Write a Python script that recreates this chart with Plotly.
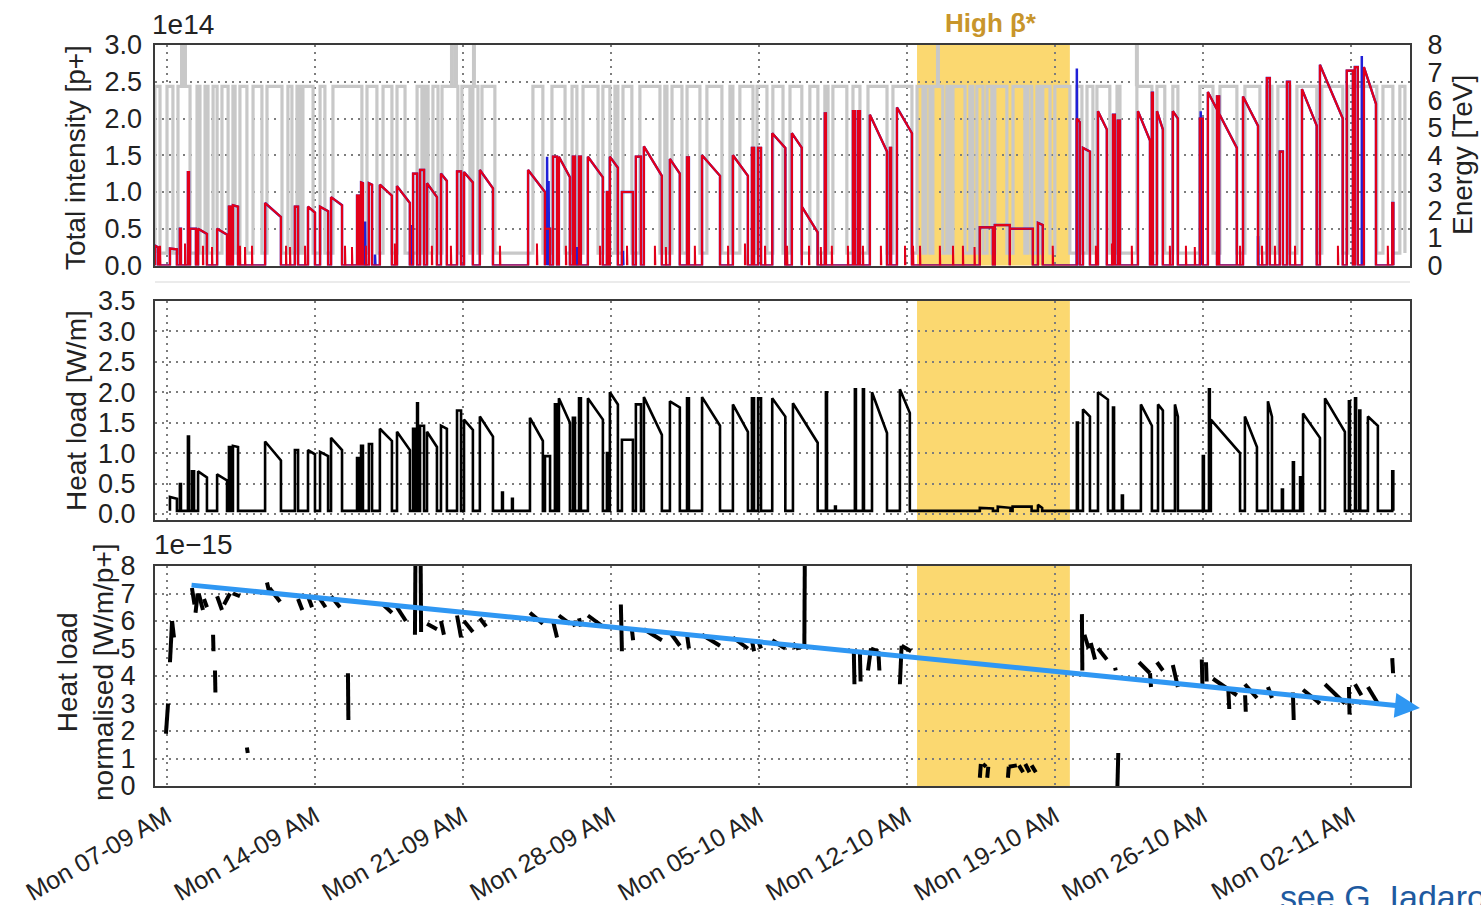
import pandas as pd
import plotly.graph_objects as go

# LHC 2015 scrubbing/physics period: time measured in days from Monday 7 Sep 2015 00:00
T0 = pd.Timestamp("2015-09-07 00:00")

# Total beam intensity per fill, units of 1e14 p+: (start day, end day, intensity at start, intensity at dump)
INTENSITY_FILLS = [
    (-0.57, -0.43, 0.27, 0.25), (0.14, 0.47, 0.23, 0.22), (0.61, 0.66, 0.50, 0.50),
    (0.99, 1.04, 1.27, 1.27), (1.09, 1.37, 0.50, 0.50), (1.47, 1.89, 0.50, 0.43),
    (2.37, 2.84, 0.50, 0.42), (2.93, 3.03, 0.80, 0.80), (3.12, 3.36, 0.82, 0.80),
    (4.64, 5.39, 0.85, 0.66), (6.05, 6.20, 0.80, 0.80), (6.67, 7.00, 0.80, 0.72),
    (7.24, 7.62, 0.80, 0.74), (7.76, 8.28, 0.93, 0.82), (8.99, 9.08, 0.95, 0.95),
    (9.18, 9.27, 1.13, 1.12), (9.55, 9.70, 1.12, 1.10), (10.07, 10.64, 1.10, 0.95),
    (10.88, 11.49, 1.08, 0.85), (11.64, 11.83, 1.25, 1.25), (11.97, 12.16, 1.30, 1.30),
    (12.30, 12.77, 1.12, 0.93), (12.96, 13.24, 1.25, 1.15), (13.72, 13.91, 1.28, 1.28),
    (14.05, 14.47, 1.27, 1.13), (14.80, 15.42, 1.30, 1.05), (17.08, 17.88, 1.30, 1.00),
    (17.88, 18.12, 0.50, 0.50), (18.26, 18.45, 1.48, 1.48), (18.54, 19.06, 1.48, 1.20),
    (19.20, 19.30, 1.48, 1.48), (19.49, 19.58, 1.48, 1.48), (19.91, 20.62, 1.48, 1.20),
    (20.81, 20.86, 1.00, 1.00), (20.95, 21.33, 1.48, 1.33), (21.52, 22.04, 1.00, 1.00),
    (22.18, 22.42, 1.48, 1.48), (22.56, 23.41, 1.62, 1.22), (23.79, 24.26, 1.45, 1.25),
    (24.60, 24.69, 1.47, 1.47), (25.31, 26.16, 1.50, 1.22), (26.77, 27.48, 1.50, 1.22),
    (27.67, 27.77, 1.60, 1.60), (27.96, 28.10, 1.60, 1.60), (28.63, 29.25, 1.80, 1.60),
    (29.56, 30.03, 1.80, 1.60), (30.03, 30.78, 0.80, 0.45), (31.12, 31.17, 2.07, 2.07),
    (32.45, 32.54, 2.10, 2.10), (32.68, 32.78, 2.10, 2.10), (33.25, 34.06, 2.05, 1.55),
    (34.20, 34.25, 1.60, 1.60), (34.53, 35.24, 2.15, 1.80), (38.45, 39.07, 0.52, 0.52),
    (39.16, 39.87, 0.55, 0.55), (39.87, 40.96, 0.50, 0.50), (41.20, 41.43, 0.58, 0.55),
    (43.04, 43.18, 2.00, 1.95), (43.33, 43.66, 1.60, 1.55), (44.04, 44.46, 2.10, 1.85),
    (44.75, 44.84, 2.05, 2.05), (44.98, 45.08, 1.97, 1.97), (45.93, 46.50, 2.10, 1.70),
    (46.59, 46.64, 2.35, 2.35), (46.83, 47.11, 2.10, 1.85), (47.58, 47.82, 2.10, 2.00),
    (48.86, 49.00, 2.00, 2.00), (49.24, 50.61, 2.36, 1.60), (49.67, 49.77, 2.30, 2.30),
    (50.90, 51.61, 2.30, 1.90), (52.03, 52.17, 2.55, 2.55), (52.64, 52.79, 1.55, 1.55),
    (52.98, 53.12, 2.50, 2.50), (53.69, 54.39, 2.40, 1.90), (54.54, 55.62, 2.73, 2.00),
    (55.81, 56.10, 2.65, 2.65), (56.19, 56.33, 2.70, 2.70), (56.62, 57.19, 2.70, 2.20),
    (57.96, 58.01, 0.85, 0.85),
]

# Short probe injections: (day, intensity 1e14)
PROBE_SHOTS = [
    (-0.33, 0.27), (0.85, 0.30), (1.70, 0.27), (2.13, 0.25), (3.45, 0.27), (3.69, 0.25),
    (4.02, 0.27), (5.63, 0.27), (5.82, 0.25), (6.53, 0.27), (8.42, 0.27), (8.75, 0.25),
    (9.41, 0.27), (10.78, 0.30), (12.53, 0.27), (13.43, 0.27), (15.75, 0.27), (17.50, 0.30),
    (18.87, 0.27), (20.48, 0.27), (21.76, 0.27), (23.08, 0.27), (23.60, 0.25), (24.97, 0.27),
    (26.54, 0.27), (27.34, 0.30), (28.29, 0.27), (29.33, 0.27), (30.37, 0.27), (30.93, 0.25),
    (31.45, 0.27), (32.21, 0.27), (32.92, 0.27), (33.77, 0.27), (34.91, 0.27), (35.29, 0.27),
    (35.62, 0.27), (36.56, 0.27), (37.18, 0.27), (37.65, 0.27), (38.20, 0.25), (41.90, 0.27),
    (43.94, 0.27), (44.70, 0.30), (45.64, 0.27), (47.44, 0.27), (48.20, 0.27), (48.62, 0.25),
    (50.76, 0.27), (51.80, 0.27), (52.41, 0.27), (53.36, 0.27), (55.39, 0.27), (57.75, 0.27),
]

# Beam 1 readings that stand out above beam 2: (day, intensity 1e14)
B1_EXCESS = [
    (9.37, 0.60), (9.84, 0.15), (11.59, 0.55), (17.98, 1.48), (18.05, 1.15),
    (19.40, 0.25), (21.57, 0.20), (43.04, 2.68), (48.90, 2.10), (51.61, 0.40), (56.52, 2.85),
]

# Beam energy: periods at flat top (start day, end day); injection otherwise
ENERGY_FLAT_TOP = [
    (-0.57, -0.33), (0.00, 0.28), (0.52, 1.09), (1.42, 1.56), (1.80, 1.94), (2.18, 2.37),
    (2.60, 2.89), (3.12, 3.22), (3.45, 3.78), (4.07, 4.49), (4.73, 5.44), (5.72, 5.91),
    (6.15, 6.29), (6.43, 6.91), (7.24, 7.47), (7.85, 9.22), (9.46, 9.93), (10.22, 10.64),
    (10.88, 11.26), (11.83, 12.06), (12.20, 12.35), (12.58, 12.82), (13.01, 13.76),
    (13.95, 14.33), (14.47, 14.71), (14.90, 15.51), (17.31, 17.78), (18.21, 18.83),
    (19.16, 19.39), (19.68, 20.39), (20.62, 20.95), (21.19, 21.33), (21.57, 21.99),
    (22.37, 23.32), (23.55, 23.65), (23.89, 24.36), (24.60, 25.21), (25.54, 26.25),
    (26.63, 26.77), (27.10, 27.72), (27.91, 28.38), (28.66, 29.14), (29.47, 30.03),
    (30.41, 30.79), (31.12, 31.27), (31.50, 32.16), (32.45, 32.78), (33.16, 34.06),
    (34.34, 35.24), (35.48, 35.76), (35.90, 36.09), (36.23, 36.70), (36.89, 37.04),
    (37.18, 37.75), (37.98, 38.12), (38.31, 38.60), (38.79, 39.02), (39.16, 39.73),
    (40.02, 40.58), (40.73, 40.91), (41.15, 41.29), (41.43, 41.77), (42.00, 42.71),
    (43.04, 43.28), (43.52, 43.80), (43.99, 44.60), (44.94, 45.08), (45.88, 46.59),
    (46.83, 47.20), (47.58, 47.82), (48.86, 49.48), (49.81, 50.61), (50.99, 51.70),
    (52.03, 52.27), (52.55, 53.12), (53.45, 54.39), (54.63, 55.62), (55.86, 57.23),
    (57.52, 57.99), (58.32, 58.56),
]
INJECTION_TEV = 0.45
FLAT_TOP_TEV = 6.5
# Spurious energy readings reaching the top of the scale
ENERGY_GLITCH_DAYS = [0.71, 0.85, 13.48, 13.67, 14.52, 36.47, 45.88]
ENERGY_GLITCH_TEV = 8.0

# Arc heat load [W/m]: (start day, end day, value at start, value at dump)
HEAT_LOAD_FILLS = [
    (0.14, 0.47, 0.28, 0.25), (0.61, 0.66, 0.49, 0.49), (0.99, 1.04, 1.27, 1.27),
    (1.18, 1.28, 0.70, 0.70), (1.47, 1.89, 0.70, 0.60), (2.37, 2.84, 0.65, 0.55),
    (2.93, 3.03, 1.10, 1.10), (3.12, 3.36, 1.12, 1.10), (4.64, 5.39, 1.19, 0.88),
    (6.05, 6.20, 1.05, 1.05), (6.67, 7.00, 1.05, 0.98), (7.24, 7.62, 1.02, 0.95),
    (7.76, 8.28, 1.25, 1.05), (8.99, 9.08, 0.92, 0.92), (9.18, 9.27, 1.12, 1.12),
    (9.55, 9.70, 1.15, 1.15), (10.07, 10.64, 1.40, 1.20), (10.88, 11.49, 1.35, 1.05),
    (11.64, 11.73, 1.40, 1.40), (11.83, 11.87, 1.82, 1.82), (11.97, 12.16, 1.45, 1.45),
    (12.30, 12.77, 1.35, 1.10), (12.96, 13.24, 1.45, 1.40), (13.72, 13.91, 1.70, 1.70),
    (14.05, 14.47, 1.55, 1.38), (14.80, 15.42, 1.60, 1.27), (15.85, 15.89, 0.35, 0.35),
    (16.32, 16.36, 0.25, 0.25), (17.17, 17.78, 1.58, 1.20), (17.88, 18.12, 0.95, 0.95),
    (18.35, 18.45, 1.80, 1.80), (18.54, 19.06, 1.90, 1.50), (19.20, 19.30, 1.58, 1.58),
    (19.49, 19.58, 1.90, 1.90), (19.91, 20.62, 1.90, 1.55), (20.81, 20.86, 1.00, 1.00),
    (20.95, 21.33, 2.00, 1.80), (21.52, 22.04, 1.22, 1.22), (22.18, 22.42, 1.80, 1.80),
    (22.56, 23.41, 1.92, 1.30), (23.79, 24.26, 1.85, 1.75), (24.60, 24.69, 1.90, 1.90),
    (25.31, 26.16, 1.92, 1.45), (26.77, 27.48, 1.80, 1.35), (27.67, 27.77, 1.90, 1.90),
    (27.96, 28.10, 1.90, 1.90), (28.63, 29.25, 1.90, 1.60), (29.61, 30.78, 1.82, 1.17),
    (31.17, 31.22, 2.00, 2.00), (31.60, 31.64, 0.12, 0.12), (32.54, 32.59, 2.05, 2.05),
    (32.92, 32.97, 2.05, 2.05), (33.35, 34.06, 2.00, 1.33), (34.67, 35.14, 2.05, 1.66),
    (38.45, 39.07, 0.10, 0.09), (39.30, 39.90, 0.12, 0.10), (40.00, 40.90, 0.12, 0.12),
    (41.20, 41.40, 0.15, 0.10), (43.04, 43.09, 1.50, 1.50), (43.33, 43.66, 1.72, 1.60),
    (44.04, 44.51, 2.00, 1.88), (44.75, 44.80, 1.75, 1.75), (45.17, 45.22, 0.30, 0.30),
    (46.07, 46.59, 1.80, 1.45), (46.88, 47.11, 1.80, 1.70), (47.68, 47.82, 1.80, 1.60),
    (49.00, 49.05, 0.95, 0.95), (49.29, 49.33, 2.05, 2.05), (49.38, 50.76, 1.55, 1.00),
    (50.99, 51.56, 1.60, 1.10), (52.08, 52.27, 1.85, 1.60), (52.74, 52.79, 0.40, 0.40),
    (53.26, 53.31, 0.85, 0.85), (53.60, 53.65, 0.60, 0.60), (53.74, 54.54, 1.65, 1.25),
    (54.78, 55.72, 1.90, 1.35), (55.91, 55.96, 1.85, 1.85), (56.20, 56.25, 1.90, 1.90),
    (56.40, 56.45, 1.70, 1.70), (56.81, 57.28, 1.60, 1.45), (57.96, 58.01, 0.70, 0.70),
]
HEAT_LOAD_NO_BEAM = 0.05

# Heat load normalised to intensity, 1e-15 W/m/p+: (start day, end day, first value, last value)
NORM_HEAT_LOAD = [
    (-0.05, 0.05, 1.9, 3.0), (0.14, 0.24, 4.5, 6.0), (0.24, 0.33, 6.0, 5.4),
    (1.18, 1.30, 7.2, 6.6), (1.35, 1.45, 6.3, 7.0), (1.50, 1.70, 7.0, 6.4),
    (1.75, 1.89, 6.8, 6.5), (2.18, 2.20, 5.5, 4.9), (2.27, 2.29, 4.2, 3.4),
    (2.37, 2.60, 6.9, 6.4), (2.70, 2.98, 6.6, 7.0), (3.12, 3.45, 7.0, 6.9),
    (3.78, 3.82, 1.4, 1.2), (4.73, 4.85, 7.4, 7.0), (4.85, 5.35, 7.2, 6.7),
    (6.20, 6.40, 6.8, 6.4), (6.67, 6.86, 6.9, 6.5), (7.24, 7.50, 6.8, 6.5),
    (7.76, 8.18, 6.9, 6.5), (8.56, 8.58, 4.1, 2.4), (10.22, 10.64, 6.6, 6.3),
    (10.88, 11.30, 6.5, 6.0), (11.73, 11.75, 5.5, 8.0), (12.00, 12.02, 8.0, 5.6),
    (12.30, 12.77, 5.9, 5.7), (12.96, 13.10, 6.0, 5.5), (13.72, 13.91, 6.2, 5.4),
    (14.05, 14.47, 6.0, 5.6), (14.80, 15.10, 6.1, 5.8), (17.17, 17.78, 6.3, 5.9),
    (18.26, 18.45, 6.0, 5.4), (18.54, 19.06, 6.2, 5.9), (19.20, 19.30, 6.0, 5.8),
    (19.49, 19.58, 6.1, 5.8), (19.91, 20.62, 6.2, 5.8), (21.47, 21.52, 6.6, 4.9),
    (21.99, 22.05, 5.7, 5.3), (22.56, 23.41, 5.7, 5.3), (23.79, 24.26, 5.6, 5.1),
    (24.60, 24.69, 5.5, 5.0), (25.31, 26.16, 5.5, 5.1), (26.77, 27.48, 5.4, 5.0),
    (27.67, 27.77, 5.3, 4.9), (27.96, 28.10, 5.3, 5.0), (28.63, 29.25, 5.3, 5.0),
    (29.61, 29.75, 5.2, 5.0), (29.75, 30.15, 5.0, 5.1), (30.15, 30.17, 5.1, 8.0),
    (32.49, 32.52, 4.9, 3.7), (32.78, 32.81, 4.8, 3.8), (33.16, 33.30, 4.2, 5.0),
    (33.30, 33.65, 5.0, 4.9), (33.65, 33.70, 4.9, 4.2), (34.67, 34.75, 3.7, 5.1),
    (34.75, 35.20, 5.1, 4.9), (38.45, 38.50, 0.3, 0.8), (38.60, 38.75, 0.8, 0.7),
    (38.80, 38.85, 0.3, 0.7), (39.78, 39.82, 0.3, 0.7), (39.82, 40.20, 0.7, 0.75),
    (40.30, 40.50, 0.75, 0.5), (40.60, 40.80, 0.8, 0.5), (40.90, 41.10, 0.75, 0.5),
    (43.28, 43.30, 6.25, 4.2), (43.40, 43.60, 5.5, 5.0), (43.70, 43.90, 5.2, 4.6),
    (44.04, 44.46, 5.0, 4.6), (44.85, 44.88, 4.3, 4.2), (44.96, 45.00, 0.0, 1.2),
    (45.98, 46.50, 4.5, 4.1), (46.50, 46.55, 4.1, 3.6), (46.83, 47.11, 4.5, 4.2),
    (47.58, 47.82, 4.4, 3.6), (48.95, 48.98, 4.6, 3.7), (49.15, 49.18, 4.5, 3.8),
    (49.48, 50.61, 3.9, 3.3), (50.20, 50.25, 3.6, 2.8), (50.99, 51.56, 3.7, 3.2),
    (51.00, 51.03, 3.3, 2.7), (52.08, 52.27, 3.6, 3.2), (53.26, 53.30, 3.4, 2.4),
    (53.74, 54.54, 3.5, 3.0), (54.78, 55.72, 3.7, 3.0), (55.91, 55.94, 3.6, 2.6),
    (56.20, 56.50, 3.7, 3.3), (56.81, 57.28, 3.6, 3.0), (57.96, 58.00, 4.65, 4.1),
]

# Conditioning trend of the normalised heat load: (day, 1e-15 W/m/p+)
TREND_FROM = (1.09, 7.31)
TREND_TO = (59.27, 2.84)

# High beta* run
HIGH_BETA_DAYS = (35.48, 42.71)
TIME_SPAN_DAYS = (-0.5676, 58.80)


def when(d):
    if d is None:
        return None
    return (T0 + pd.Timedelta(days=d)).strftime("%Y-%m-%d %H:%M:%S")


def fill_profile(rows, floor):
    xs, ys = [], []
    for t0, t1, v0, v1 in sorted(rows):
        xs += [t0, t0, t1, t1]
        ys += [floor, v0, v1, floor]
    return [when(x) for x in xs], ys


def spikes(points, floor):
    xs, ys = [], []
    for t, v in points:
        xs += [t, t, t + 0.02, t + 0.02, None]
        ys += [floor, v, v, floor, None]
    return [when(x) for x in xs], ys


def segments(rows):
    xs, ys = [], []
    for t0, t1, v0, v1 in rows:
        xs += [t0, t1, None]
        ys += [v0, v1, None]
    return [when(x) for x in xs], ys


FONT = "Liberation Sans, Arial, sans-serif"
INK = "#222222"
RED = "#E2001A"
BLUE = "#2020D8"
GREY = "#C8C8C8"

fig = go.Figure()

# ---- top panel: energy (right) and intensities (left)
ex, ey = [], []
for up, down in ENERGY_FLAT_TOP:
    ex += [up, up, down, down]
    ey += [INJECTION_TEV, FLAT_TOP_TEV, FLAT_TOP_TEV, INJECTION_TEV]
fig.add_trace(go.Scatter(x=[when(v) for v in ex], y=ey, mode="lines",
                         line=dict(color=GREY, width=3.2), xaxis="x", yaxis="y"))
gx, gy = [], []
for t in ENERGY_GLITCH_DAYS:
    gx += [t, t, None]
    gy += [FLAT_TOP_TEV, ENERGY_GLITCH_TEV, None]
fig.add_trace(go.Scatter(x=[when(v) for v in gx], y=gy, mode="lines",
                         line=dict(color=GREY, width=4), xaxis="x", yaxis="y"))

ix, iy = fill_profile(INTENSITY_FILLS, 0.0)
fig.add_trace(go.Scatter(x=ix, y=iy, mode="lines", line=dict(color=BLUE, width=2.4),
                         xaxis="x", yaxis="y4"))
bx, by = spikes(B1_EXCESS, 0.0)
fig.add_trace(go.Scatter(x=bx, y=by, mode="lines", line=dict(color=BLUE, width=2.5),
                         xaxis="x", yaxis="y4"))
fig.add_trace(go.Scatter(x=ix, y=iy, mode="lines", line=dict(color=RED, width=2.2),
                         xaxis="x", yaxis="y4"))
px_, py_ = spikes(PROBE_SHOTS, 0.0)
fig.add_trace(go.Scatter(x=px_, y=py_, mode="lines", line=dict(color=RED, width=2),
                         xaxis="x", yaxis="y4"))

# ---- middle panel: heat load
hx, hy = fill_profile(HEAT_LOAD_FILLS, HEAT_LOAD_NO_BEAM)
fig.add_trace(go.Scatter(x=hx, y=hy, mode="lines", line=dict(color="black", width=2.6),
                         xaxis="x2", yaxis="y2"))

# ---- bottom panel: normalised heat load
nx, ny = segments(NORM_HEAT_LOAD)
fig.add_trace(go.Scatter(x=nx, y=ny, mode="lines", line=dict(color="black", width=4),
                         xaxis="x3", yaxis="y3"))

x_span = [when(TIME_SPAN_DAYS[0]), when(TIME_SPAN_DAYS[1])]
X_DOMAIN = [155 / 1481, 1410 / 1481]
PANEL_Y = {1: (45, 265.5), 2: (301, 520), 3: (566, 786)}


def ydom(k):
    top, bottom = PANEL_Y[k]
    return [1 - bottom / 905, 1 - top / 905]


grid = dict(showgrid=True, gridcolor="#7d7d7d", gridwidth=1.8, griddash="2px,5px")
frame = dict(showline=True, mirror=True, linecolor="#3a3a3a", linewidth=2,
             zeroline=False, ticks="", automargin=False)
tickfont = dict(family=FONT, size=27, color=INK)

xcommon = dict(type="date", range=x_span, domain=X_DOMAIN, tick0=when(0.0),
               dtick=7 * 86400000, tickformat="%a %d-%m %p", **grid, **frame)

fig.update_layout(
    width=1481, height=905, margin=dict(l=0, r=0, t=0, b=0, autoexpand=False),
    paper_bgcolor="white", plot_bgcolor="white", showlegend=False,
    font=dict(family=FONT, color=INK),
    xaxis=dict(anchor="y", showticklabels=False, **xcommon),
    xaxis2=dict(anchor="y2", showticklabels=False, **xcommon),
    xaxis3=dict(anchor="y3", showticklabels=True, tickangle=-30,
                tickfont=dict(family=FONT, size=25, color=INK), ticklabelstandoff=4,
                **xcommon),
    yaxis=dict(domain=ydom(1), anchor="x", side="right", range=[0, 8], dtick=1,
               showgrid=False, tickfont=tickfont, ticklabelstandoff=10, **frame),
    yaxis4=dict(overlaying="y", anchor="x", side="left", range=[0, 3.0], dtick=0.5,
                tickformat=".1f", tickfont=tickfont, ticklabelstandoff=12,
                zeroline=False, ticks="", automargin=False, **grid),
    yaxis2=dict(domain=ydom(2), anchor="x2", range=[-0.1, 3.5], dtick=0.5,
                tickformat=".1f", tickfont=tickfont, ticklabelstandoff=12, **grid, **frame),
    yaxis3=dict(domain=ydom(3), anchor="x3", range=[0, 8], dtick=1,
                tickfont=tickfont, ticklabelstandoff=12, **grid, **frame),
)

# High beta* period shaded across all panels
for xr, yr in (("x", "y"), ("x2", "y2"), ("x3", "y3")):
    fig.add_shape(type="rect", xref=xr, yref=yr + " domain",
                  x0=when(HIGH_BETA_DAYS[0]), x1=when(HIGH_BETA_DAYS[1]), y0=0, y1=1,
                  fillcolor="#FBD870", line=dict(width=0), layer="below")

fig.add_shape(type="line", xref="paper", yref="paper", x0=X_DOMAIN[0], x1=X_DOMAIN[1],
              y0=1 - 282 / 905, y1=1 - 282 / 905, line=dict(color="#e4e4e4", width=1.5))

title_font = dict(family=FONT, size=28, color=INK)
notes = [
    dict(text="Total intensity [p+]", x=76 / 1481, y=1 - 158 / 905, textangle=-90),
    dict(text="Energy [TeV]", x=1462 / 1481, y=1 - 155 / 905, textangle=-90),
    dict(text="Heat load [W/m]", x=76 / 1481, y=1 - 411 / 905, textangle=-90),
    dict(text="Heat load<br>normalised [W/m/p+]", x=85 / 1481, y=1 - 672 / 905,
         textangle=-90),
]
for n in notes:
    fig.add_annotation(xref="paper", yref="paper", showarrow=False, font=title_font,
                       xanchor="center", yanchor="middle", **n)

fig.add_annotation(text="1e14", xref="paper", yref="paper", x=150 / 1481, y=1 - 42 / 905,
                   xanchor="left", yanchor="bottom", showarrow=False, font=title_font)
fig.add_annotation(text="1e\u221215", xref="paper", yref="paper", x=152 / 1481,
                   y=1 - 562 / 905, xanchor="left", yanchor="bottom", showarrow=False,
                   font=title_font)
fig.add_annotation(text="<b>High \u03b2*</b>", xref="paper", yref="paper",
                   x=991 / 1481, y=1 - 23 / 905, xanchor="center", yanchor="middle",
                   showarrow=False, font=dict(family=FONT, size=26, color="#C8952B"))

fig.add_annotation(x=when(TREND_TO[0]), y=TREND_TO[1], xref="x3", yref="y3",
                   ax=when(TREND_FROM[0]), ay=TREND_FROM[1], axref="x3", ayref="y3",
                   text="", showarrow=True, arrowhead=2, arrowsize=1, arrowwidth=5,
                   arrowcolor="#2F97F3")

fig.add_annotation(text="see G. Iadarola", xref="paper", yref="paper", x=1278 / 1481,
                   y=1 - 876 / 905, xanchor="left", yanchor="top", showarrow=False,
                   font=dict(family=FONT, size=34, color="#1E5AA0"))

fig.write_html("out.html")
